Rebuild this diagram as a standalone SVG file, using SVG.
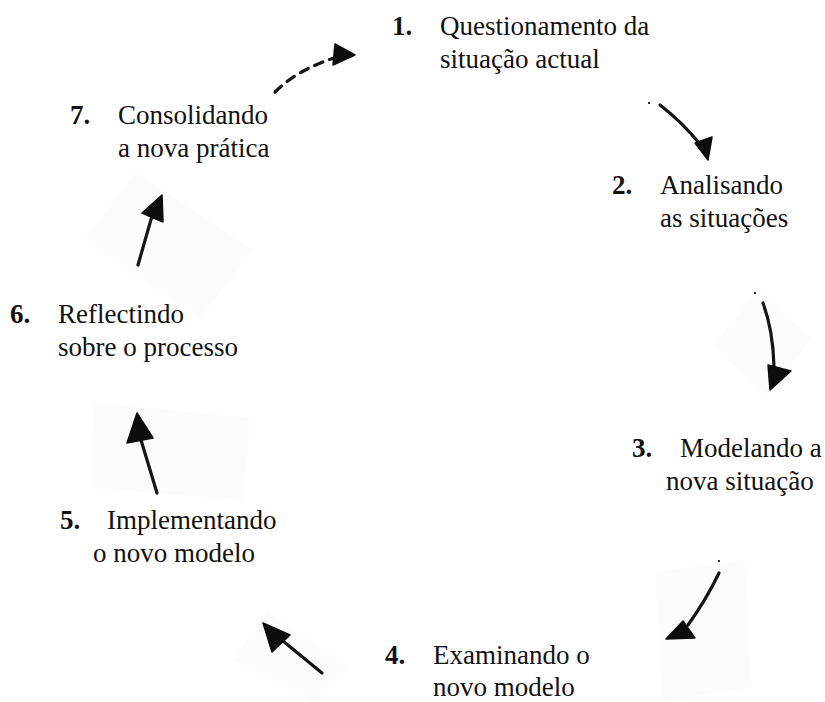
<svg xmlns="http://www.w3.org/2000/svg" width="825" height="702" viewBox="0 0 825 702">
  <style>
    text { font-family: "Liberation Serif", "Times New Roman", serif; font-size: 27px; fill: #111; }
    .num { font-weight: bold; }
    .line { fill: none; stroke: #151515; stroke-width: 3.2; stroke-linecap: round; }
    .dash { stroke-dasharray: 9 7; }
    .head { fill: #0d0d0d; stroke: #0d0d0d; stroke-width: 1.5; stroke-linejoin: round; }
    .pad { fill: #fcfcfc; }
    .dot { fill: #333; }
  </style>

  <!-- light paper patches behind the arrows -->
  <g id="patches">
    <polygon class="pad" points="712,347 757,290 812,338 768,396"/>
    <polygon class="pad" points="655,572 745,560 752,688 662,700"/>
    <polygon class="pad" points="232,660 268,612 350,668 316,702"/>
    <polygon class="pad" points="94,402 250,418 244,500 90,488"/>
    <polygon class="pad" points="84,240 135,172 254,250 200,318"/>
  </g>

  <!-- connectors -->
  <g id="connectors">
    <!-- 7 -> 1 (dashed) -->
    <path class="line dash" d="M275,92 Q297,70 334,58"/>
    <polygon class="head" points="335,44 355,55 333,65"/>
    <!-- 1 -> 2 -->
    <rect class="dot" x="648" y="102" width="2" height="2"/>
    <path class="line" d="M660,105 Q682,122 699,143"/>
    <polygon class="head" points="695,143 712,137 708,160"/>
    <!-- 2 -> 3 -->
    <rect class="dot" x="754" y="292" width="2" height="2"/>
    <path class="line" d="M763,303 Q773,330 774,366"/>
    <polygon class="head" points="768,365 791,371 770,390"/>
    <!-- 3 -> 4 -->
    <rect class="dot" x="718" y="560" width="2" height="2"/>
    <path class="line" d="M719,573 Q706,600 688,625"/>
    <polygon class="head" points="683,621 695,638 666,639"/>
    <!-- 4 -> 5 -->
    <path class="line" d="M322,673 L283,641"/>
    <polygon class="head" points="263,623 290,635 272,652"/>
    <!-- 5 -> 6 -->
    <path class="line" d="M157,493 L141,440"/>
    <polygon class="head" points="137,413 153,438 127,443"/>
    <!-- 6 -> 7 -->
    <path class="line" d="M138,265 L152,216"/>
    <polygon class="head" points="162,195 163,222 142,213"/>
  </g>

  <g id="step1">
    <text class="num" x="392" y="35">1.</text>
    <text x="440" y="35">Questionamento da</text>
    <text x="440" y="68">situação actual</text>
  </g>
  <g id="step2">
    <text class="num" x="612" y="194">2.</text>
    <text x="660" y="194">Analisando</text>
    <text x="660" y="227">as situações</text>
  </g>
  <g id="step3">
    <text class="num" x="632" y="457">3.</text>
    <text x="680" y="457">Modelando a</text>
    <text x="666" y="490">nova situação</text>
  </g>
  <g id="step4">
    <text class="num" x="385" y="664">4.</text>
    <text x="433" y="664">Examinando o</text>
    <text x="433" y="696">novo modelo</text>
  </g>
  <g id="step5">
    <text class="num" x="60" y="529">5.</text>
    <text x="107" y="529">Implementando</text>
    <text x="93" y="562">o novo modelo</text>
  </g>
  <g id="step6">
    <text class="num" x="10" y="323">6.</text>
    <text x="58" y="323">Reflectindo</text>
    <text x="58" y="356">sobre o processo</text>
  </g>
  <g id="step7">
    <text class="num" x="70" y="124">7.</text>
    <text x="118" y="124">Consolidando</text>
    <text x="118" y="157">a nova prática</text>
  </g>
</svg>
